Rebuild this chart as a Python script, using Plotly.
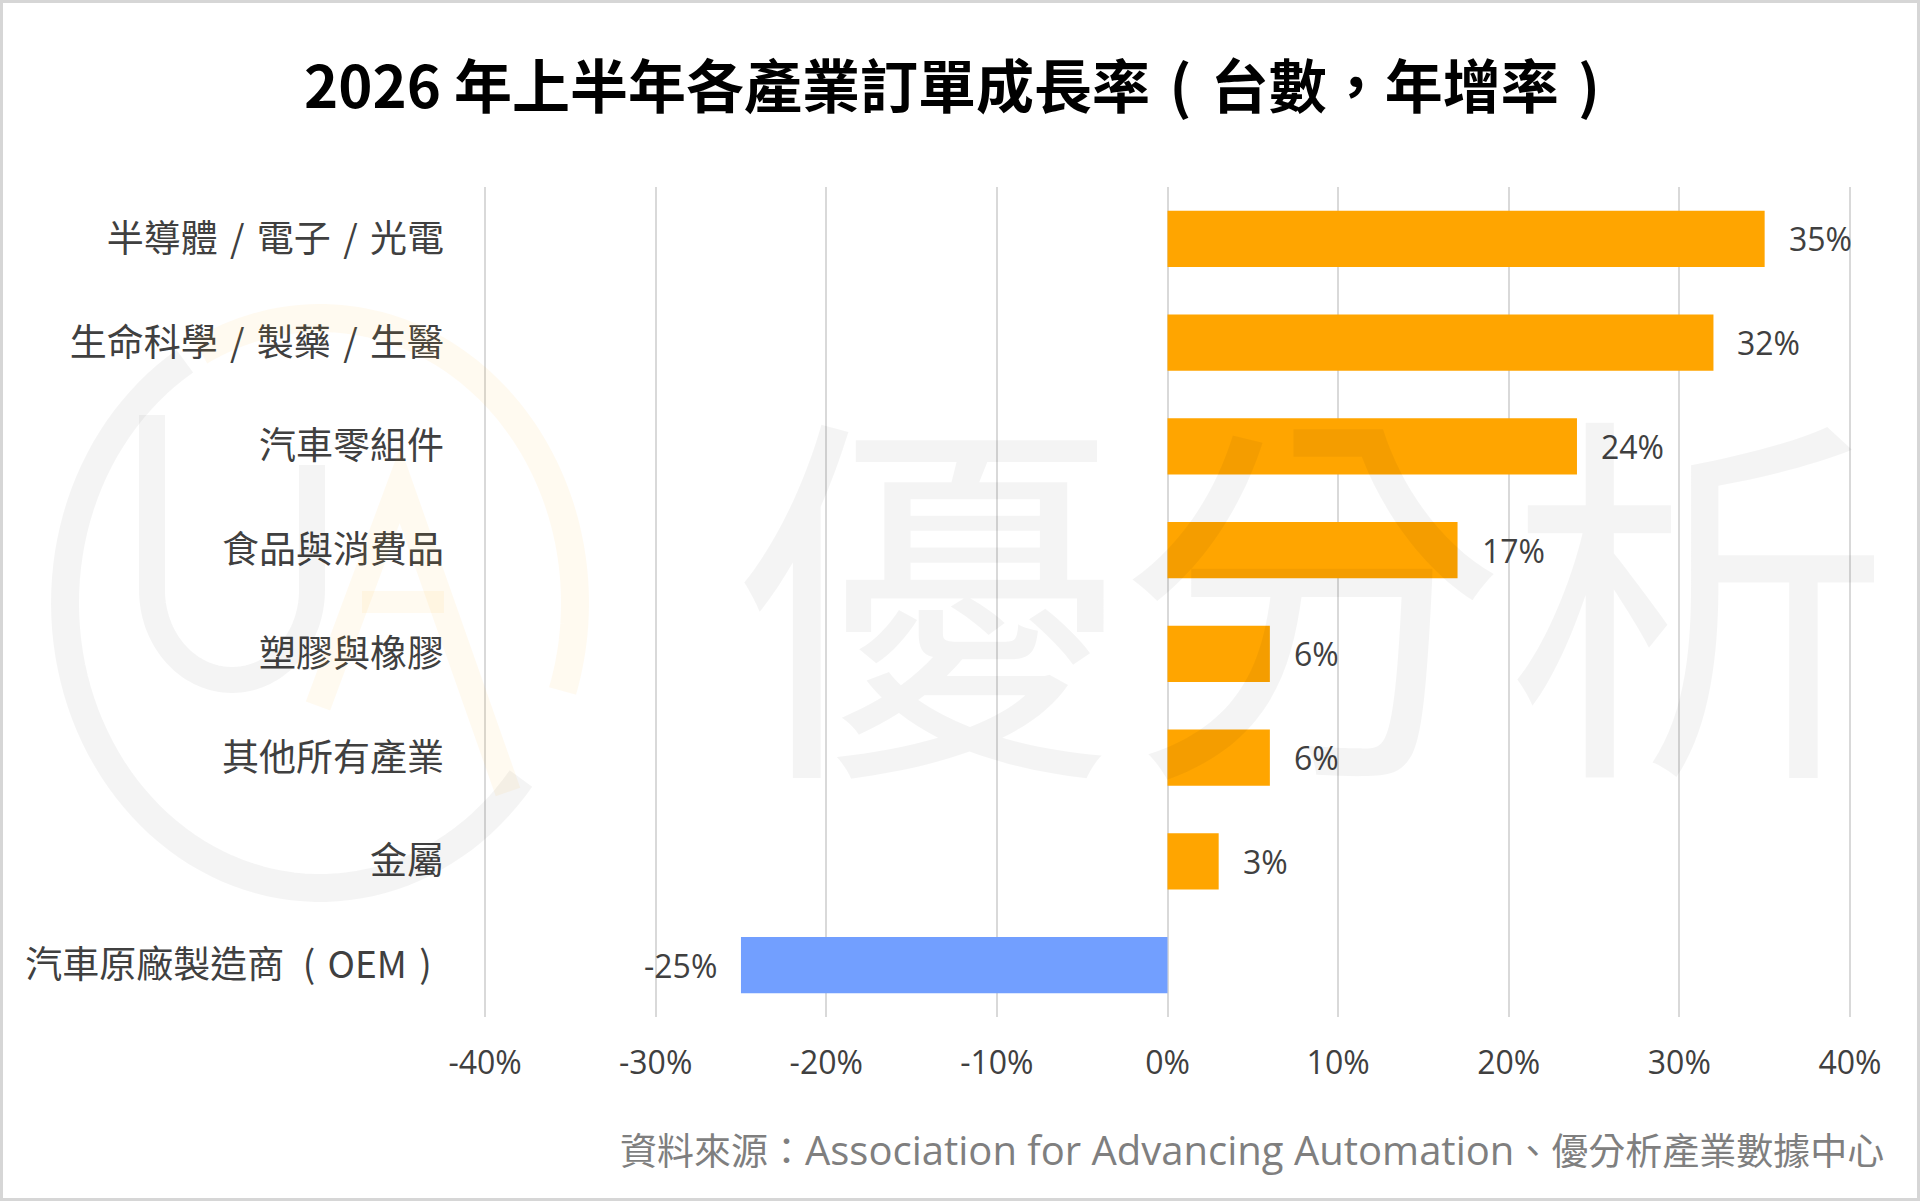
import numpy as np
import plotly.graph_objects as go

# ---------------- data ----------------
categories = [
    "半導體 / 電子 / 光電",
    "生命科學 / 製藥 / 生醫",
    "汽車零組件",
    "食品與消費品",
    "塑膠與橡膠",
    "其他所有產業",
    "金屬",
    "汽車原廠製造商（OEM）",
]
category_labels = [
    "半導體\u2004/\u2004電子\u2004/\u2004光電",
    "生命科學\u2004/\u2004製藥\u2004/\u2004生醫",
    "汽車零組件",
    "食品與消費品",
    "塑膠與橡膠",
    "其他所有產業",
    "金屬",
    "汽車原廠製造商\u2002(\u2004OEM\u2004)\u2004",
]
growth_pct = [35, 32, 24, 17, 6, 6, 3, -25]
x_ticks = [-40, -30, -20, -10, 0, 10, 20, 30, 40]
x_tick_labels = ["-40%", "-30%", "-20%", "-10%", "0%", "10%", "20%", "30%", "40%"]
title_text = "2026 年上半年各產業訂單成長率\u2004(\u2004台數，年增率\u2004)"
source_cjk_head = "資料來源："
source_latin = "Association for Advancing Automation"
source_cjk_tail = "、優分析產業數據中心"
watermark_text = "優分析"

# ---------------- layout geometry ----------------
W, H = 1920, 1201
ML, MR, MT, MB = 483, 68, 187, 184
PW, PH = W - ML - MR, H - MT - MB


def px2x(px):
    return (px - ML) / PW


def py2y(py):
    return (H - MB - py) / PH


POS = "#FFA500"
NEG = "#729FFF"
TXT = "#404040"
CJK = "Noto Sans CJK TC"
LAT = "Open Sans, Noto Sans CJK TC"

bar_colors = [POS if v >= 0 else NEG for v in growth_pct]

fig = go.Figure(
    go.Bar(
        x=growth_pct,
        y=categories,
        orientation="h",
        marker=dict(color=bar_colors, line=dict(width=0)),
        hoverinfo="skip",
    )
)

annotations = []
for cat, v in zip(categories, growth_pct):
    annotations.append(
        dict(
            x=v, y=cat, xref="x", yref="y",
            text=f"{v}%", showarrow=False,
            xanchor="left" if v >= 0 else "right",
            xshift=22 if v >= 0 else -22,
            font=dict(family=LAT, size=32, color=TXT),
        )
    )

# source line
annotations.append(
    dict(
        x=px2x(1886), y=py2y(1149), xref="paper", yref="paper",
        xanchor="right", yanchor="middle", showarrow=False,
        text=(source_cjk_head
              + f"<span style='font-size:40px'>{source_latin}</span>"
              + source_cjk_tail),
        font=dict(family=LAT, size=37, color="#7F7F7F"),
    )
)

# big watermark text
annotations.append(
    dict(
        x=px2x(1312), y=py2y(578), xref="paper", yref="paper",
        xanchor="center", yanchor="middle", showarrow=False,
        text=watermark_text,
        font=dict(family=CJK, size=386, color="rgba(0,0,0,0.042)"),
    )
)

# ---------------- decorative logo watermark ----------------
shapes = []


def path_from(points):
    pts = [f"{px2x(px):.5f},{py2y(py):.5f}" for px, py in points]
    return "M " + " L ".join(pts)


def ellipse_arc(cx, cy, rx, ry, a0, a1, n=80):
    t = np.radians(np.linspace(a0, a1, n))
    return list(zip(cx + rx * np.cos(t), cy - ry * np.sin(t)))


GRAY_WM = "rgba(0,0,0,0.045)"
ORNG_WM = "rgba(255,170,0,0.06)"

# outer ring
shapes.append(dict(type="path", xref="paper", yref="paper",
                   path=path_from(ellipse_arc(320, 603, 255, 285, 122, 322)),
                   line=dict(color=GRAY_WM, width=28), layer="above"))
shapes.append(dict(type="path", xref="paper", yref="paper",
                   path=path_from(ellipse_arc(320, 603, 255, 285, 118, -18)),
                   line=dict(color=ORNG_WM, width=28), layer="above"))
# "U"
u_pts = [(152, 415)] + ellipse_arc(232, 590, 80, 90, 180, 360) + [(312, 465)]
shapes.append(dict(type="path", xref="paper", yref="paper",
                   path=path_from(u_pts),
                   line=dict(color=GRAY_WM, width=26), layer="above"))
# "A"
shapes.append(dict(type="path", xref="paper", yref="paper",
                   path=path_from([(318, 706), (400, 485), (508, 792)]),
                   line=dict(color=ORNG_WM, width=26), layer="above"))
shapes.append(dict(type="path", xref="paper", yref="paper",
                   path=path_from([(362, 602), (444, 602)]),
                   line=dict(color=ORNG_WM, width=22), layer="above"))

# frame border
shapes.append(dict(type="rect", xref="paper", yref="paper",
                   x0=px2x(1.5), x1=px2x(W - 1.5), y0=py2y(H - 1.5), y1=py2y(1.5),
                   line=dict(color="#D6D6D6", width=3), fillcolor="rgba(0,0,0,0)",
                   layer="above"))

fig.update_layout(
    width=W, height=H,
    margin=dict(l=ML, r=MR, t=MT, b=MB, pad=0),
    paper_bgcolor="white", plot_bgcolor="white",
    showlegend=False,
    bargap=0.46,
    title=dict(
        text=f"<b>{title_text}</b>",
        x=952 / W, xanchor="center",
        y=1 - 88 / H, yanchor="middle",
        xref="container", yref="container",
        font=dict(family=CJK, size=58, color="#000000"),
    ),
    xaxis=dict(
        range=[x_ticks[0] - 0.12, x_ticks[-1] + 0.12],
        tickvals=x_ticks, ticktext=x_tick_labels,
        showgrid=True, gridcolor="#D9D9D9", gridwidth=2,
        zeroline=False, showline=False, ticks="",
        tickfont=dict(family=LAT, size=32, color=TXT),
        ticklabelstandoff=24,
        fixedrange=True,
    ),
    yaxis=dict(
        type="category",
        categoryorder="array", categoryarray=categories,
        tickvals=categories, ticktext=category_labels,
        autorange="reversed",
        showgrid=False, zeroline=False, showline=False, ticks="",
        tickfont=dict(family=CJK, size=37, color=TXT),
        ticklabelstandoff=38,
        fixedrange=True,
    ),
    annotations=annotations,
    shapes=shapes,
)

fig.write_html(
    "out.html",
    config={"displayModeBar": False},
    post_script="document.body.style.margin='0';document.body.style.overflow='hidden';",
)
